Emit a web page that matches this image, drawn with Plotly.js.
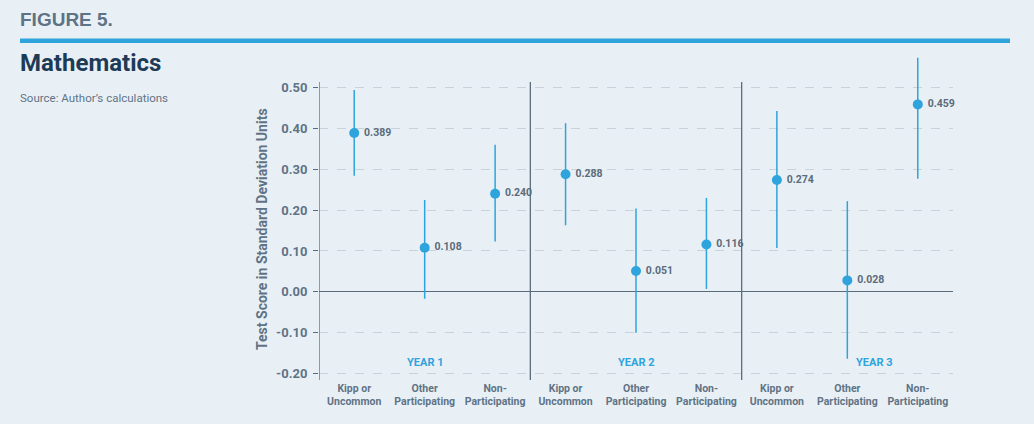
<!DOCTYPE html>
<html><head><meta charset="utf-8">
<script src="https://cdn.plot.ly/plotly-3.0.1.min.js"></script>
<style>body{margin:0;background:#e9f0f5}</style>
</head><body><div id="chart" style="width:1034px;height:424px"></div>
<script>
const years = ['YEAR 1', 'YEAR 2', 'YEAR 3'];
const groups = ['Kipp or<br>Uncommon', 'Other<br>Participating', 'Non-<br>Participating'];
const estimates = [0.389, 0.108, 0.240, 0.288, 0.051, 0.116, 0.274, 0.028, 0.459];
const ciHigh = [0.494, 0.225, 0.360, 0.413, 0.204, 0.230, 0.443, 0.222, 0.573];
const ciLow = [0.284, -0.017, 0.123, 0.163, -0.100, 0.007, 0.107, -0.164, 0.277];
const yTicks = [-0.2, -0.1, 0, 0.1, 0.2, 0.3, 0.4, 0.5];

const FONT = 'Roboto, "DejaVu Sans Condensed", sans-serif';
const BLUE = '#2ea3dc';
const SLATE = '#5a6b7b';
const GREY = '#5f7386';
const BG = '#e9f0f5';

const W = 1034, H = 424;
const M = {l: 319, r: 81, t: 55, b: 44};
const pw = W - M.l - M.r, ph = H - M.t - M.b;
const px = x => (x - M.l) / pw;
const py = y => (H - M.b - y) / ph;

const xIdx = [], tickText = [];
years.forEach((y, g) => groups.forEach((c, k) => { xIdx.push(g * groups.length + k); tickText.push(c); }));
const axisTop = 0.514, axisBottom = -0.216;

const trace = {
  type: 'scatter', mode: 'markers+text', x: xIdx, y: estimates,
  marker: {color: BLUE, size: 10},
  text: estimates.map(v => ' ' + v.toFixed(3)),
  textposition: 'middle right',
  textfont: {family: FONT, size: 10.5, color: SLATE, weight: 'bold'},
  error_y: {type: 'data', symmetric: false,
    array: ciHigh.map((h, i) => h - estimates[i]),
    arrayminus: ciLow.map((l, i) => estimates[i] - l),
    color: BLUE, thickness: 1.5, width: 0},
  cliponaxis: false, hoverinfo: 'skip', showlegend: false
};

const shapes = [
  {type: 'rect', xref: 'paper', yref: 'paper', x0: px(20), x1: px(1010), y0: py(43), y1: py(38.5), fillcolor: BLUE, line: {width: 0}},
  {type: 'line', xref: 'x', yref: 'y', x0: -0.5, x1: -0.5, y0: axisBottom, y1: axisTop, line: {color: SLATE, width: 1.3}}
];
for (let g = 1; g < years.length; g++) {
  const xs = g * groups.length - 0.5;
  shapes.push({type: 'line', xref: 'x', yref: 'y', x0: xs, x1: xs, y0: axisBottom, y1: axisTop, line: {color: SLATE, width: 1.3}});
}

const annotations = [
  {xref: 'paper', yref: 'paper', x: px(18), y: py(20), xanchor: 'left', yanchor: 'middle', showarrow: false,
   text: 'FIGURE 5.', font: {family: '"Liberation Sans", Arial, sans-serif', size: 19, color: GREY, weight: 'bold'}},
  {xref: 'paper', yref: 'paper', x: px(18), y: py(63), xanchor: 'left', yanchor: 'middle', showarrow: false,
   text: 'Mathematics', font: {family: FONT, size: 24, color: '#1d3b57', weight: 'bold'}},
  {xref: 'paper', yref: 'paper', x: px(18), y: py(98), xanchor: 'left', yanchor: 'middle', showarrow: false,
   text: "Source: Author’s calculations", font: {family: FONT, size: 11.5, color: GREY}},
  {xref: 'paper', yref: 'paper', x: px(262), y: py(229), xanchor: 'center', yanchor: 'middle', showarrow: false, textangle: -90,
   text: 'Test Score in Standard Deviation Units', font: {family: FONT, size: 14, color: GREY, weight: 'bold'}}
];
years.forEach((y, g) => {
  annotations.push({xref: 'x', yref: 'y', x: g * groups.length + 1, y: -0.172, showarrow: false,
    xshift: g === years.length - 1 ? 27 : 0,
    text: y, font: {family: FONT, size: 11, color: BLUE, weight: 'bold'}});
});

const layout = {
  width: W, height: H, margin: M,
  paper_bgcolor: BG, plot_bgcolor: BG,
  xaxis: {range: [-0.5, xIdx.length - 0.5], tickvals: xIdx, ticktext: tickText, tickangle: 0,
    showgrid: false, zeroline: false, showline: false, ticks: '',
    tickfont: {family: FONT, size: 10.5, color: GREY, weight: 'bold'}},
  yaxis: {range: [axisBottom, 0.58], tickvals: yTicks, ticktext: yTicks.map(v => v.toFixed(2)),
    showgrid: true, gridcolor: '#c9d2da', griddash: 'dash', gridwidth: 1,
    zeroline: true, zerolinecolor: SLATE, zerolinewidth: 1.3, showline: false,
    ticks: 'outside', ticklen: 5, tickcolor: SLATE, ticklabelstandoff: 3,
    tickfont: {family: FONT, size: 13, color: GREY, weight: 'bold'}},
  shapes: shapes, annotations: annotations
};
Plotly.newPlot('chart', [trace], layout, {displayModeBar: false, staticPlot: true});
</script></body></html>
